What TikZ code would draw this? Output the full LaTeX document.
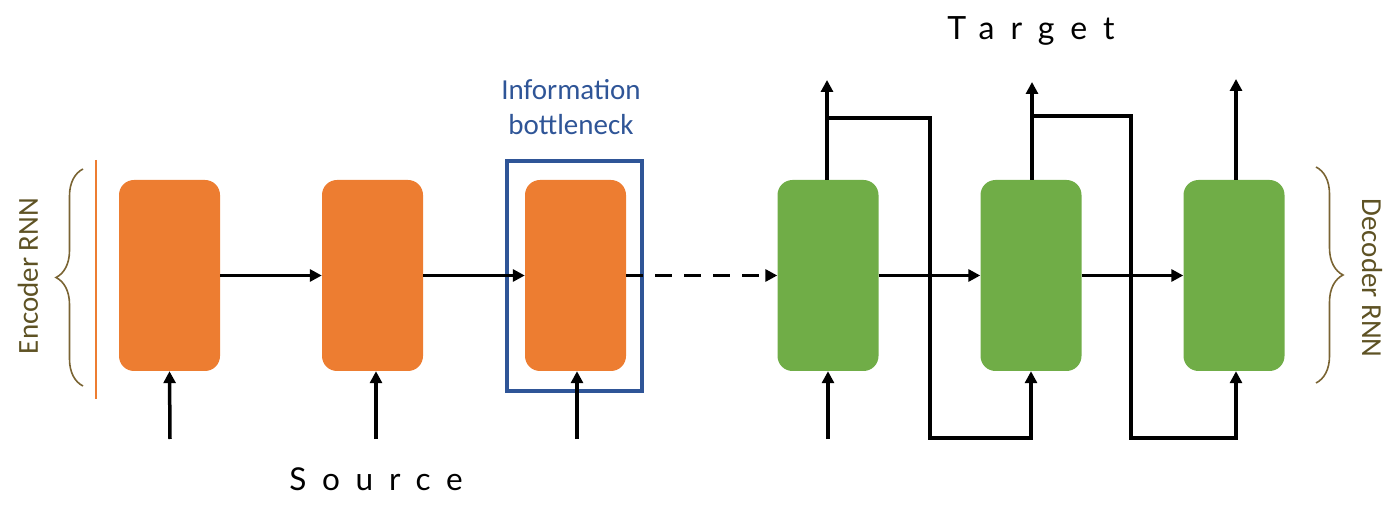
\documentclass[tikz,border=0pt]{standalone}
\usepackage{fontspec}
\setmainfont{Carlito}
\newfontfamily\titlefont{Lato}[LetterSpace=50]
\usepackage{tikz}
\usetikzlibrary{arrows.meta, positioning, decorations.pathreplacing}
\definecolor{encorange}{HTML}{ED7D31}
\definecolor{decgreen}{HTML}{70AD47}
\definecolor{neckblue}{HTML}{2F5597}
\definecolor{braceolive}{HTML}{7A6433}
\definecolor{textolive}{HTML}{5E5224}
\tikzstyle{arrow} = [line width=3pt,-{Triangle[length=12pt,width=12pt]}]
\tikzstyle{feed} = [line width=3.5pt,-{Triangle[length=12pt,width=12pt]}]
\tikzstyle{encbox} = [rectangle, rounded corners=15pt, fill=encorange, minimum width=101pt, minimum height=191pt, inner sep=0pt]
\tikzstyle{decbox} = [rectangle, rounded corners=15pt, fill=decgreen, minimum width=101pt, minimum height=191pt, inner sep=0pt]
\tikzset{
	bottle/.style = {rectangle, draw=neckblue, line width=4pt,
		minimum width=135pt, minimum height=230pt, inner sep=0pt},
	sidebrace/.style = {draw=braceolive, line width=1.6pt,
		decorate, decoration={brace, amplitude=27pt}},
	sidelabel/.style = {text=textolive, font=\fontsize{29}{34}\selectfont}
}

\begin{document}
\begin{tikzpicture}[x=1pt, y=-1pt, node distance=203pt]
\useasboundingbox (0,0) rectangle (1400,518);
%----------------------------------------------------------------------------
% Placement of the RNN cells
\node (enc1) [encbox] at (169.5,275.5) {};
\node (enc2) [encbox, right of = enc1] {};
\node (enc3) [encbox, right of = enc2] {};
\node (dec1) [decbox, right of = enc3, node distance = 252.5pt] {};
\node (dec2) [decbox, right of = dec1] {};
\node (dec3) [decbox, right of = dec2] {};

\node (bneck) [bottle] at (574.5,276) {};
\node (bnecklabel) [text=neckblue, align=center, font=\fontsize{29}{35}\selectfont] at (571,107) {Information\\bottleneck};

%----------------------------------------------------------------------------
% Free ends of the connectors
\coordinate (src1) at (170,439);
\coordinate (src2) at (376,439);
\coordinate (src3) at (577,439);
\coordinate (src4) at (828,439);
\coordinate (out1) at (827,80);
\coordinate (out2) at (1032,82);
\coordinate (out3) at (1236,79);
\coordinate (fb1top) at (930,118);
\coordinate (fb1bot) at (930,438);
\coordinate (fb2top) at (1131,116);
\coordinate (fb2bot) at (1131,438);

%----------------------------------------------------------------------------
% Lines
\draw [arrow] (enc1) -- (enc2);
\draw [arrow] (enc2) -- (enc3);
\draw [arrow, dash pattern=on 17pt off 12pt] (enc3) -- (dec1);
\draw [arrow] (dec1) -- (dec2);
\draw [arrow] (dec2) -- (dec3);

\draw [feed] (src1) -- (enc1.south);
\draw [feed] (src2) -- (enc2.south -| src2);
\draw [feed] (src3) -- (enc3.south -| src3);
\draw [feed] (src4) -- (dec1.south);

\draw [feed] (dec1.north -| out1) -- (out1);
\draw [feed] (dec2.north -| out2) -- (out2);
\draw [feed] (dec3.north -| out3) -- (out3);

\draw [feed] (out1 |- fb1top) -- (fb1top) -- (fb1bot) -| (dec2.south);
\draw [feed] (out2 |- fb2top) -- (fb2top) -- (fb2bot) -| (dec3.south -| out3);

%----------------------------------------------------------------------------
% Braces and labels
\draw [encorange, line width=1.2pt] (96,160) -- (96,399);
\draw [sidebrace] (83,386) -- (83,169);
\draw [sidebrace] (1316,167) -- (1316,383);
\node (enclabel) [sidelabel, rotate=90] at (28,276) {Encoder RNN};
\node (declabel) [sidelabel, rotate=-90] at (1372,278) {Decoder RNN};

\node (target) [font=\titlefont\fontsize{32}{36}\selectfont] at (1031,31) {Target};
\node (source) [font=\titlefont\fontsize{31.5}{36}\selectfont] at (376,479) {Source};
\end{tikzpicture}
\end{document}
